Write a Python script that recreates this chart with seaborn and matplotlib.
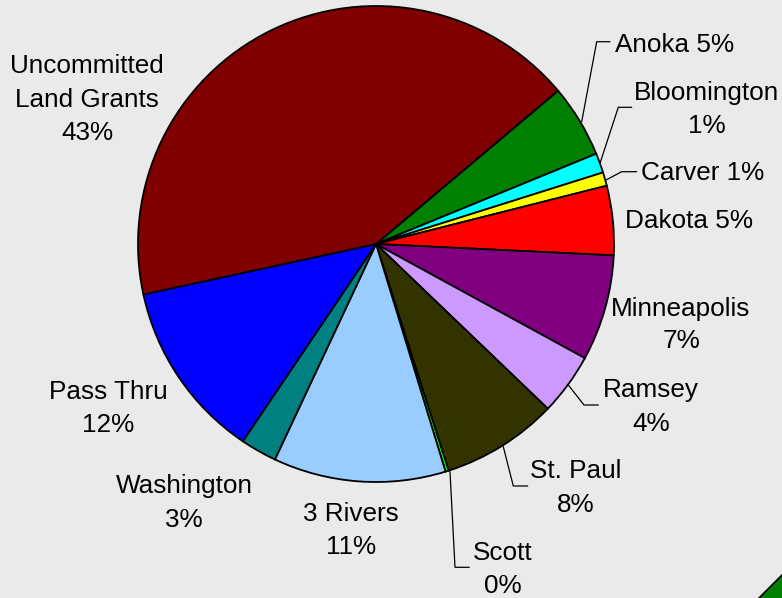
import matplotlib
matplotlib.use("Agg")
import matplotlib.pyplot as plt
import seaborn as sns

# ---- data (clockwise order, first slice starts at the Anoka edge) ----
categories = ["Anoka", "Bloomington", "Carver", "Dakota", "Minneapolis", "Ramsey",
              "St. Paul", "Scott", "3 Rivers", "Washington", "Pass Thru",
              "Uncommitted Land Grants"]
values = [4.95, 1.33, 0.92, 4.70, 7.20, 4.20, 7.90, 0.22, 11.70, 2.47, 12.15, 42.26]
pct_labels = ["5%", "1%", "1%", "5%", "7%", "4%", "8%", "0%", "11%", "3%", "12%", "43%"]
slice_colors = ["#008000", "#00FFFF", "#FFFF00", "#FF0000", "#800080", "#CC99FF",
                "#333300", "#00FF00", "#99CCFF", "#008080", "#0000FF", "#800000"]

BG = "#EAEAEA"
sns.set_style("white", {"axes.facecolor": BG, "figure.facecolor": BG})
plt.rcParams["font.family"] = ["Liberation Sans", "DejaVu Sans"]

W, H = 782, 598
fig = plt.figure(figsize=(W / 100, H / 100), dpi=100, facecolor=BG)
ax = fig.add_axes([0, 0, 1, 1])
ax.set_facecolor(BG)

def Y(py):
    return H - py

palette = sns.color_palette(slice_colors)
ax.pie(values, colors=palette, startangle=40.1, counterclock=False,
       center=(376, Y(244)), radius=238,
       wedgeprops=dict(edgecolor="black", linewidth=1.3, antialiased=True))
ax.set_xlim(0, W)
ax.set_ylim(0, H)
ax.set_aspect("equal")
ax.axis("off")

FS = 18.8
TXT = "#000000"

# label lines: (text, x, baseline_y, ha)
label_lines = [
    ("Uncommitted", 87, 73, "center"),
    ("Land Grants", 87, 107, "center"),
    (pct_labels[11], 87, 140, "center"),
    (f"{categories[0]} {pct_labels[0]}", 615, 52, "left"),
    (categories[1], 707, 100, "center"),
    (pct_labels[1], 707, 133, "center"),
    (f"{categories[2]} {pct_labels[2]}", 641, 180, "left"),
    (f"{categories[3]} {pct_labels[3]}", 625, 228, "left"),
    (categories[4], 681, 316, "center"),
    (pct_labels[4], 681, 348, "center"),
    (categories[5], 651, 397, "center"),
    (pct_labels[5], 651, 431, "center"),
    (categories[6], 576, 478, "center"),
    (pct_labels[6], 576, 512, "center"),
    (categories[7], 503, 560, "center"),
    (pct_labels[7], 503, 593, "center"),
    (categories[8], 351, 521, "center"),
    (pct_labels[8], 351, 554, "center"),
    (categories[9], 184, 493, "center"),
    (pct_labels[9], 184, 527, "center"),
    (categories[10], 108, 399, "center"),
    (pct_labels[10], 108, 432, "center"),
]
for t, x, by, ha in label_lines:
    ax.text(x, Y(by), t, fontsize=FS, color=TXT, ha=ha, va="baseline")

# leader lines
leaders = [
    [(581.7, 121.7), (596.7, 41.7), (610, 41.7)],
    [(600, 163.3), (618.3, 107.3), (631.7, 107.3)],
    [(606, 180), (621.7, 171.7), (636.7, 171.7)],
    [(568.3, 385), (584, 405), (598.3, 405)],
    [(503.3, 446.7), (513.3, 486), (527.7, 486)],
    [(450, 471.7), (455, 567.3), (469.3, 567.3)],
]
for pts in leaders:
    xs = [p[0] for p in pts]
    ys = [Y(p[1]) for p in pts]
    ax.plot(xs, ys, color="black", linewidth=0.9, solid_joinstyle="miter")

# decorative green corner shape at bottom right
ax.fill([757, 790, 790], [Y(600), Y(567), Y(600)], color="#008000",
        edgecolor="black", linewidth=1.2, clip_on=True)

fig.savefig("out.png", dpi=100, facecolor=BG)
